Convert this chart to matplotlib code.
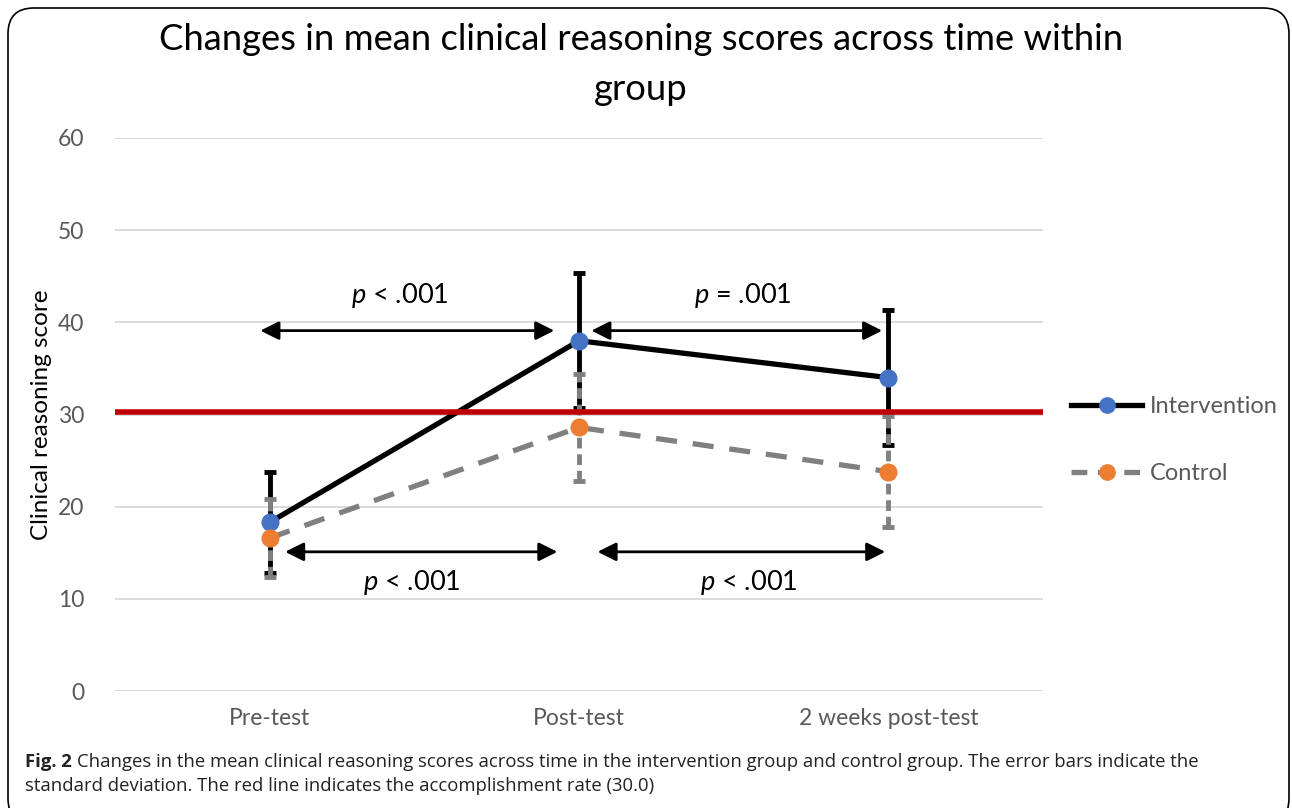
import matplotlib
matplotlib.use('Agg')
import matplotlib.pyplot as plt
from matplotlib.patches import FancyBboxPatch
from matplotlib.lines import Line2D
import numpy as np

# data
times = ['Pre-test', 'Post-test', '2 weeks post-test']
interv_mean = [18.3, 38.0, 34.0]
interv_sd = [5.5, 7.3, 7.3]
control_mean = [16.6, 28.6, 23.8]
control_sd = [4.2, 5.8, 6.0]
cutoff = 30.3
yticks = [0, 10, 20, 30, 40, 50, 60]

# significance arrows: (start, end, y, label, label x)
top_arrows = [(-0.03, 0.92, 39.1, '$p$ < .001', 0.42), (1.04, 1.98, 39.1, '$p$ = .001', 1.53)]
bot_arrows = [(0.05, 0.93, 15.1, '$p$ < .001', 0.46), (1.06, 1.99, 15.1, '$p$ < .001', 1.55)]

plt.rcParams['font.family'] = ['Lato', 'DejaVu Sans']
plt.rcParams['mathtext.fontset'] = 'custom'
plt.rcParams['mathtext.it'] = 'Lato:italic'
W, H = 1292, 808
fig = plt.figure(figsize=(W/100, H/100), dpi=100)

# rounded frame around the chart
frame = FancyBboxPatch((8/W, -0.02), (1289-8)/W, 1-8/H+0.02,
                       boxstyle='round,pad=0,rounding_size=0.02',
                       transform=fig.transFigure, fill=False, ec='black', lw=1.2,
                       mutation_aspect=W/H)
fig.patches.append(frame)

ax = fig.add_axes([115/W, 1-691/H, (1043-115)/W, (691-138)/H])
x = np.arange(len(times))
ax.set_xlim(-0.5, 2.5)
ax.set_ylim(0, 60)
ax.set_yticks(yticks)
ax.grid(axis='y', color='#d9d9d9', lw=1.3)
ax.set_axisbelow(True)
for s in ax.spines.values():
    s.set_visible(False)
ax.tick_params(length=0, labelsize=16.5, labelcolor='#595959', pad=12)
ax.set_xticks(x)
ax.set_xticklabels(times)
ax.tick_params(axis='y', pad=22)
ax.set_ylabel('Clinical reasoning score', fontsize=17.5, labelpad=4)

# intervention
ax.errorbar(x, interv_mean, yerr=interv_sd, fmt='none', ecolor='black', elinewidth=3.5,
            capsize=4, capthick=3.5, zorder=3)
ax.plot(x, interv_mean, color='black', lw=3.8, zorder=4)
# control
eb = ax.errorbar(x, control_mean, yerr=control_sd, fmt='none', ecolor='#808080', elinewidth=3.5,
                 capsize=4, capthick=3.5, zorder=3.5)
eb[2][0].set_linestyle((0, (2.2, 1.2)))
ax.plot(x, control_mean, color='#808080', lw=3.8, ls=(0, (4, 3)), zorder=3.6)

ax.axhline(cutoff, color='#c00000', lw=4, zorder=5)

ax.plot(x, interv_mean, 'o', color='#4472c4', ms=12, zorder=6)
ax.plot(x, control_mean, 'o', color='#ed7d31', ms=12, zorder=6)

for x0, x1, yy, lab, lx in top_arrows + bot_arrows:
    ax.annotate('', xy=(x1, yy), xytext=(x0, yy),
                arrowprops=dict(arrowstyle='<|-|>', color='black', lw=2, mutation_scale=28,
                                shrinkA=0, shrinkB=0), zorder=7)
for x0, x1, yy, lab, lx in top_arrows:
    ax.text(lx, yy+2.2, lab, ha='center', va='bottom', fontsize=19.5)
for x0, x1, yy, lab, lx in bot_arrows:
    ax.text(lx, yy-1.8, lab, ha='center', va='top', fontsize=19.5)

fig.text(641/W, 1-40/H, 'Changes in mean clinical reasoning scores across time within',
         ha='center', va='center', fontsize=26.2)
fig.text(641/W, 1-90/H, 'group', ha='center', va='center', fontsize=26.2)

# legend
h1 = Line2D([], [], color='black', lw=3.8, marker='o', mfc='#4472c4', mec='#4472c4', ms=11)
h2 = Line2D([], [], color='#808080', lw=3.8, ls=(0, (3, 2)), marker='o', mfc='#ed7d31', mec='#ed7d31', ms=11)
leg = fig.legend([h1, h2], ['Intervention', 'Control'], loc='center left',
                 bbox_to_anchor=(1050/W, 1-440/H), frameon=False, fontsize=17,
                 handlelength=3.0, labelspacing=1.95, handletextpad=0.35)
for t in leg.get_texts():
    t.set_color('#595959')

# caption with bold lead
cap_font = ['Open Sans', 'DejaVu Sans']
fig.canvas.draw()
r = fig.canvas.get_renderer()
lead = fig.text(25/W, 1-762/H, 'Fig. 2', ha='left', va='center', fontsize=13.3,
                family=cap_font, weight='bold', color='#222222')
bb = lead.get_window_extent(r)
fig.text((bb.x1 + 5)/W, 1-762/H,
         'Changes in the mean clinical reasoning scores across time in the intervention group and control group. The error bars indicate the',
         ha='left', va='center', fontsize=13.3, family=cap_font, color='#222222')
fig.text(25/W, 1-786/H, 'standard deviation. The red line indicates the accomplishment rate (30.0)',
         ha='left', va='center', fontsize=13.3, family=cap_font, color='#222222')

fig.savefig('out.png', dpi=100)
